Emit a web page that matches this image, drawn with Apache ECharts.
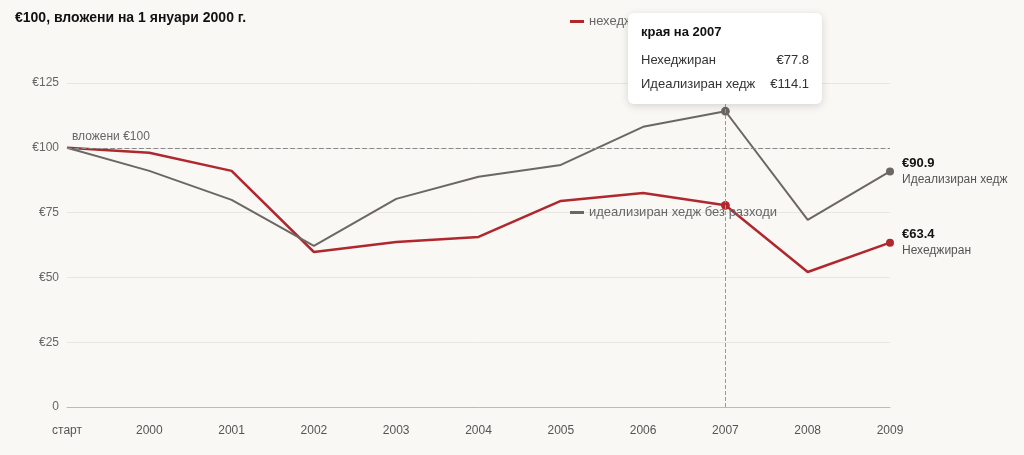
<!DOCTYPE html>
<html><head><meta charset="utf-8">
<script src="https://cdn.jsdelivr.net/npm/echarts@6/dist/echarts.min.js"></script>
<style>html,body{margin:0;background:#f9f8f5}#c{width:1024px;height:455px}</style>
</head><body><div id="c"></div>
<script>
const categories = ['старт','2000','2001','2002','2003','2004','2005','2006','2007','2008','2009'];
const unhedged = [100, 98.1, 91.1, 59.8, 63.7, 65.6, 79.5, 82.6, 77.8, 52.1, 63.4];
const hedged = [100, 91.1, 79.9, 62.2, 80.3, 88.8, 93.4, 108.1, 114.1, 72.2, 90.9];
const yTicks = [0, 25, 50, 75, 100, 125];

const chart = echarts.init(document.getElementById('c'));
const dots = i => (i === 8 || i === 10) ? 8 : 0;
function lastLabel(name) {
  return {
    show: true, position: 'right', distance: 8,
    formatter: p => p.dataIndex === 10 ? '{v|€' + p.value.toFixed(1) + '}\n{n|' + name + '}' : '',
    rich: { v: { fontWeight: 'bold', fontSize: 13, color: '#111', lineHeight: 16 },
            n: { fontSize: 12, color: '#555', lineHeight: 16 } }
  };
}
chart.setOption({
  backgroundColor: '#f9f8f5',
  textStyle: { fontFamily: 'Helvetica, Arial, sans-serif' },
  title: { text: '€100, вложени на 1 януари 2000 г.', left: 10, top: 6,
    textStyle: { fontSize: 14, fontWeight: 'bold', color: '#111' } },
  legend: { left: 565, top: 10, itemWidth: 14, itemHeight: 3, itemGap: 178, icon: 'rect',
    textStyle: { color: '#666', fontSize: 13 },
    data: ['нехеджиран', 'идеализиран хедж без разходи'] },
  grid: { left: 67, right: 134, top: 83, bottom: 48 },
  tooltip: {
    trigger: 'axis', alwaysShowContent: true, backgroundColor: '#fff', borderWidth: 0,
    extraCssText: 'border-radius:6px;box-shadow:0 2px 8px rgba(0,0,0,0.15);padding:8px 13px;width:168px;',
    position: () => [628, 13],
    axisPointer: { type: 'line', lineStyle: { color: '#999', type: 'dashed', width: 1 } },
    formatter: ps => {
      const row = (n, v) => '<div style="display:flex;justify-content:space-between;font-size:13px;color:#333;line-height:24px"><span>' + n + '</span><span>€' + v.toFixed(1) + '</span></div>';
      return '<div style="font-weight:bold;font-size:13px;color:#111;margin-bottom:6px">края на ' + ps[0].axisValue + '</div>' +
        row('Нехеджиран', ps[0].value) + row('Идеализиран хедж', ps[1].value);
    }
  },
  xAxis: { type: 'category', data: categories, boundaryGap: false,
    axisLine: { lineStyle: { color: '#bbb' } }, axisTick: { show: false },
    axisLabel: { color: '#555', fontSize: 12, margin: 18 } },
  yAxis: { type: 'value', min: 0, max: 125, interval: 25,
    axisLabel: { color: '#666', fontSize: 12, formatter: v => yTicks.includes(v) ? (v === 0 ? '0' : '€' + v) : '' },
    splitLine: { lineStyle: { color: '#e8e6e1' } } },
  series: [
    { name: 'нехеджиран', type: 'line', data: unhedged, color: '#b0282e',
      lineStyle: { width: 2.5 }, symbol: 'circle', symbolSize: (v, p) => dots(p.dataIndex),
      showSymbol: true, label: lastLabel('Нехеджиран'), emphasis: { disabled: true },
      markLine: { silent: true, symbol: 'none', data: [{ yAxis: 100 }],
        lineStyle: { color: '#888', type: 'dashed', width: 1.2 },
        label: { position: 'insideStartTop', formatter: 'вложени €100', color: '#666', fontSize: 12 } } },
    { name: 'идеализиран хедж без разходи', type: 'line', data: hedged, color: '#6b6864',
      lineStyle: { width: 2 }, symbol: 'circle', symbolSize: (v, p) => dots(p.dataIndex),
      showSymbol: true, label: lastLabel('Идеализиран хедж'), emphasis: { disabled: true } }
  ]
});
chart.dispatchAction({ type: 'showTip', seriesIndex: 0, dataIndex: 8 });
</script></body></html>
